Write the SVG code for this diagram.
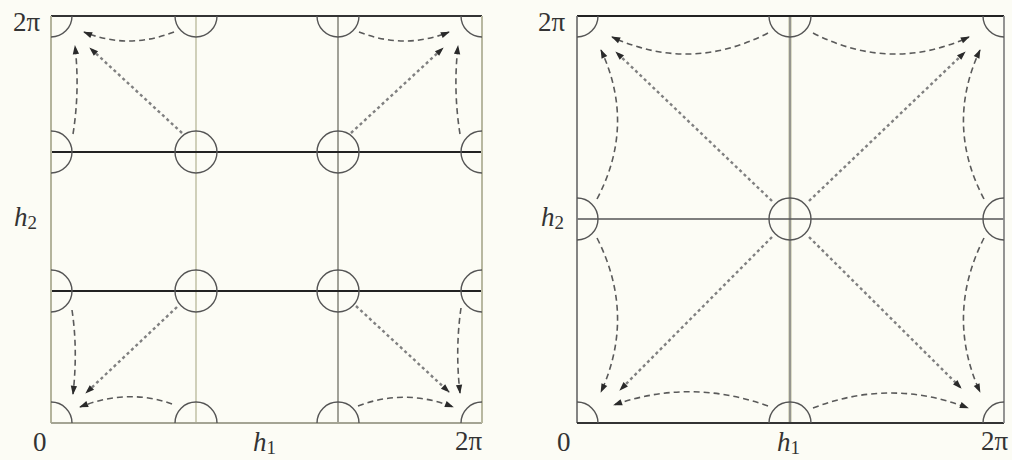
<svg xmlns="http://www.w3.org/2000/svg" width="1012" height="460" viewBox="0 0 1012 460">
<style>
.bg{fill:#fcfcf5}
.c{fill:none;stroke:#555;stroke-width:1.4}
.dash{fill:none;stroke:#5a5a5a;stroke-width:1.6;stroke-dasharray:6 4}
.dot{fill:none;stroke:#808080;stroke-width:2.4;stroke-dasharray:3 3}
.lbl{font-family:"Liberation Serif","DejaVu Serif",serif;font-size:27px;fill:#333}
.it{font-style:italic}
</style>
<defs>
<marker id="ah" viewBox="0 0 10 10" refX="9" refY="5" markerWidth="11" markerHeight="9" orient="auto" markerUnits="userSpaceOnUse">
<path d="M0,1.5 L10,5 L0,8.5 z" fill="#2a2a2a"/>
</marker>
<clipPath id="clipL"><rect x="51" y="16" width="431" height="407"/></clipPath>
<clipPath id="clipR"><rect x="577" y="16" width="427" height="407"/></clipPath>
</defs>
<rect class="bg" x="0" y="0" width="1012" height="460"/>

<g id="panel-left">
<g id="grid-left">
<line x1="196" y1="16" x2="196" y2="423" stroke="#c4c4aa" stroke-width="1.6"/>
<line x1="338" y1="16" x2="338" y2="423" stroke="#8a8a80" stroke-width="1.6"/>
<line x1="51" y1="152" x2="482" y2="152" stroke="#222" stroke-width="1.8"/>
<line x1="51" y1="291" x2="482" y2="291" stroke="#222" stroke-width="1.8"/>
<line x1="51" y1="16" x2="482" y2="16" stroke="#333" stroke-width="1.8"/>
<line x1="51" y1="16" x2="51" y2="423" stroke="#b4b49c" stroke-width="2"/>
<line x1="51" y1="423" x2="482" y2="423" stroke="#a4a494" stroke-width="2"/>
<line x1="482" y1="16" x2="482" y2="423" stroke="#b8b8a0" stroke-width="2"/>
</g>
<g id="nodes-left" clip-path="url(#clipL)">
<circle id="nL-00" class="c" cx="51" cy="423" r="21"/>
<circle id="nL-10" class="c" cx="196" cy="423" r="21"/>
<circle id="nL-20" class="c" cx="338" cy="423" r="21"/>
<circle id="nL-30" class="c" cx="482" cy="423" r="21"/>
<circle id="nL-01" class="c" cx="51" cy="291" r="21"/>
<circle id="nL-11" class="c" cx="196" cy="291" r="21"/>
<circle id="nL-21" class="c" cx="338" cy="291" r="21"/>
<circle id="nL-31" class="c" cx="482" cy="291" r="21"/>
<circle id="nL-02" class="c" cx="51" cy="152" r="21"/>
<circle id="nL-12" class="c" cx="196" cy="152" r="21"/>
<circle id="nL-22" class="c" cx="338" cy="152" r="21"/>
<circle id="nL-32" class="c" cx="482" cy="152" r="21"/>
<circle id="nL-03" class="c" cx="51" cy="16" r="21"/>
<circle id="nL-13" class="c" cx="196" cy="16" r="21"/>
<circle id="nL-23" class="c" cx="338" cy="16" r="21"/>
<circle id="nL-33" class="c" cx="482" cy="16" r="21"/>
</g>
</g>

<g id="panel-right">
<g id="grid-right">
<line x1="790" y1="16" x2="790" y2="423" stroke="#dcdcc8" stroke-width="4"/>
<line x1="790" y1="16" x2="790" y2="423" stroke="#777" stroke-width="1.4"/>
<line x1="577" y1="219" x2="1004" y2="219" stroke="#555" stroke-width="1.4"/>
<line x1="577" y1="16" x2="1004" y2="16" stroke="#222" stroke-width="1.8"/>
<line x1="577" y1="16" x2="577" y2="423" stroke="#777" stroke-width="1.8"/>
<line x1="577" y1="423" x2="1004" y2="423" stroke="#333" stroke-width="1.8"/>
<line x1="1004" y1="16" x2="1004" y2="423" stroke="#888" stroke-width="1.8"/>
</g>
<g id="nodes-right" clip-path="url(#clipR)">
<circle id="nR-00" class="c" cx="577" cy="423" r="21"/>
<circle id="nR-10" class="c" cx="790" cy="423" r="21"/>
<circle id="nR-20" class="c" cx="1004" cy="423" r="21"/>
<circle id="nR-01" class="c" cx="577" cy="219" r="21"/>
<circle id="nR-11" class="c" cx="790" cy="219" r="21"/>
<circle id="nR-21" class="c" cx="1004" cy="219" r="21"/>
<circle id="nR-02" class="c" cx="577" cy="16" r="21"/>
<circle id="nR-12" class="c" cx="790" cy="16" r="21"/>
<circle id="nR-22" class="c" cx="1004" cy="16" r="21"/>
</g>
</g>

<g id="connectors">
<path class="dash" d="M174,32 Q128,50 84,32" marker-end="url(#ah)"/>
<path class="dash" d="M73,134 Q80,90 75,46" marker-end="url(#ah)"/>
<path class="dot" d="M182,133 L90,48" marker-end="url(#ah)"/>
<path class="dash" d="M359,32 Q405,50 449,32" marker-end="url(#ah)"/>
<path class="dash" d="M460,134 Q453,90 458,46" marker-end="url(#ah)"/>
<path class="dot" d="M351,133 L443,48" marker-end="url(#ah)"/>
<path class="dash" d="M172,404 Q128,388 80,407" marker-end="url(#ah)"/>
<path class="dash" d="M72,310 Q78,350 73,394" marker-end="url(#ah)"/>
<path class="dot" d="M177,307 L86,393" marker-end="url(#ah)"/>
<path class="dash" d="M358,406 Q405,388 453,407" marker-end="url(#ah)"/>
<path class="dash" d="M461,308 Q455,350 460,393" marker-end="url(#ah)"/>
<path class="dot" d="M356,306 L449,392" marker-end="url(#ah)"/>
<path class="dash" d="M768,33 Q690,73 612,37" marker-end="url(#ah)"/>
<path class="dash" d="M597,199 Q636,125 601,50" marker-end="url(#ah)"/>
<path class="dot" d="M772,201 L616,52" marker-end="url(#ah)"/>
<path class="dash" d="M813,33 Q891,73 969,37" marker-end="url(#ah)"/>
<path class="dash" d="M984,199 Q945,125 980,50" marker-end="url(#ah)"/>
<path class="dot" d="M809,201 L965,52" marker-end="url(#ah)"/>
<path class="dash" d="M768,406 Q690,378 614,405" marker-end="url(#ah)"/>
<path class="dash" d="M597,238 Q636,315 601,392" marker-end="url(#ah)"/>
<path class="dot" d="M772,237 L620,390" marker-end="url(#ah)"/>
<path class="dash" d="M813,408 Q891,378 968,408" marker-end="url(#ah)"/>
<path class="dash" d="M984,238 Q945,315 980,392" marker-end="url(#ah)"/>
<path class="dot" d="M809,237 L961,388" marker-end="url(#ah)"/>
</g>

<g id="labels">
<text class="lbl" x="13" y="31">2π</text>
<text class="lbl it" x="14" y="226">h<tspan font-size="19" font-style="normal" dy="3">2</tspan></text>
<text class="lbl" x="33" y="451">0</text>
<text class="lbl it" x="253" y="451">h<tspan font-size="19" font-style="normal" dy="3">1</tspan></text>
<text class="lbl" x="455" y="450">2π</text>
<text class="lbl" x="538" y="31">2π</text>
<text class="lbl it" x="541" y="226">h<tspan font-size="19" font-style="normal" dy="3">2</tspan></text>
<text class="lbl" x="557" y="451">0</text>
<text class="lbl it" x="777" y="451">h<tspan font-size="19" font-style="normal" dy="3">1</tspan></text>
<text class="lbl" x="981" y="450">2π</text>
</g>
</svg>
